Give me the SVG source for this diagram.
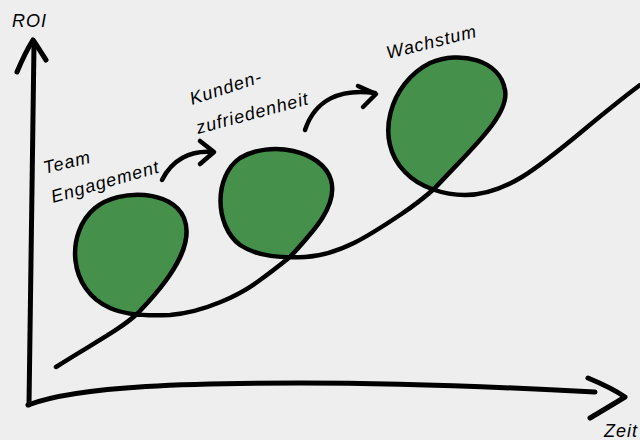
<svg xmlns="http://www.w3.org/2000/svg" width="640" height="440" viewBox="0 0 640 440">
<style>
.bg{fill:#eeeeee}
.ax{fill:none;stroke:#000;stroke-width:5;stroke-linecap:round;stroke-linejoin:round}
.cv{fill:none;stroke:#000;stroke-width:4.5;stroke-linecap:round;stroke-linejoin:round}
.lp{fill:#45904b;stroke:none}
.ar{fill:none;stroke:#000;stroke-width:4.5;stroke-linecap:round;stroke-linejoin:round}
.t{font-family:"Liberation Sans",Arial,sans-serif;font-style:italic;fill:#000;font-size:18px;letter-spacing:1px}
</style>
<rect class="bg" x="0" y="0" width="640" height="440"/>
<g id="axes">
<path class="ax" d="M29,405 C30,300 33,150 34,44"/>
<path class="ax" d="M17,72 C22,60 28,48 33,40 C38,47 42,54 46,60"/>
<path class="ax" stroke-width="6" d="M28,405 C80,385 200,383 300,383 C420,383 520,388 595,392"/>
<path class="ax" d="M588,378 C600,383 615,390 625,397 C612,405 600,412 590,418"/>
<text class="t" x="12" y="27">ROI</text>
<text class="t" x="604" y="437">Zeit</text>
</g>
<g id="loop1">
<path class="lp" d="M138,313 C170,280 195,245 184,218 C172,190 120,188 95,208 C65,233 68,290 110,308 C122,313 132,315 138,313 Z"/>
</g>
<g id="loop2">
<path class="lp" d="M290,257 C315,230 338,205 331,180 C322,150 270,140 240,158 C214,176 214,225 240,245 C258,257 280,258 290,257 Z"/>
</g>
<g id="loop3">
<path class="lp" d="M435,188 C470,150 510,115 505,90 C500,60 460,50 430,63 C390,83 373,140 405,172 C415,183 425,187 435,188 Z"/>
</g>
<g id="connectors">
<path class="cv" d="M56,367 C90,345 120,330 138,313 C170,280 195,245 184,218 C172,190 120,188 95,208 C65,233 68,290 110,308 C128,316 150,316 170,315 C205,312 240,295 260,280 C270,273 280,265 290,257 C315,230 338,205 331,180 C322,150 270,140 240,158 C214,176 214,225 240,245 C258,257 282,258 305,257 C340,255 370,235 400,215 C412,207 424,198 435,188 C470,150 510,115 505,90 C500,60 460,50 430,63 C390,83 373,140 405,172 C420,188 445,195 465,195 C520,195 560,145 640,85"/>
<path class="ar" d="M162,180 C172,160 190,150 213,152"/>
<path class="ar" d="M200,141 L214,152 L200,164"/>
<path class="ar" d="M305,130 C315,100 340,88 375,93"/>
<path class="ar" d="M358,86 L376,94 L363,107"/>
</g>
<g id="label-team">
<text class="t" transform="translate(45,174) rotate(-14)">Team</text>
<text class="t" transform="translate(53,203) rotate(-16)">Engagement</text>
</g>
<g id="label-kunden">
<text class="t" transform="translate(192,105) rotate(-18)">Kunden-</text>
<text class="t" transform="translate(198,134) rotate(-15)">zufriedenheit</text>
</g>
<g id="label-wachstum">
<text class="t" transform="translate(388,59) rotate(-14)">Wachstum</text>
</g>
</svg>
